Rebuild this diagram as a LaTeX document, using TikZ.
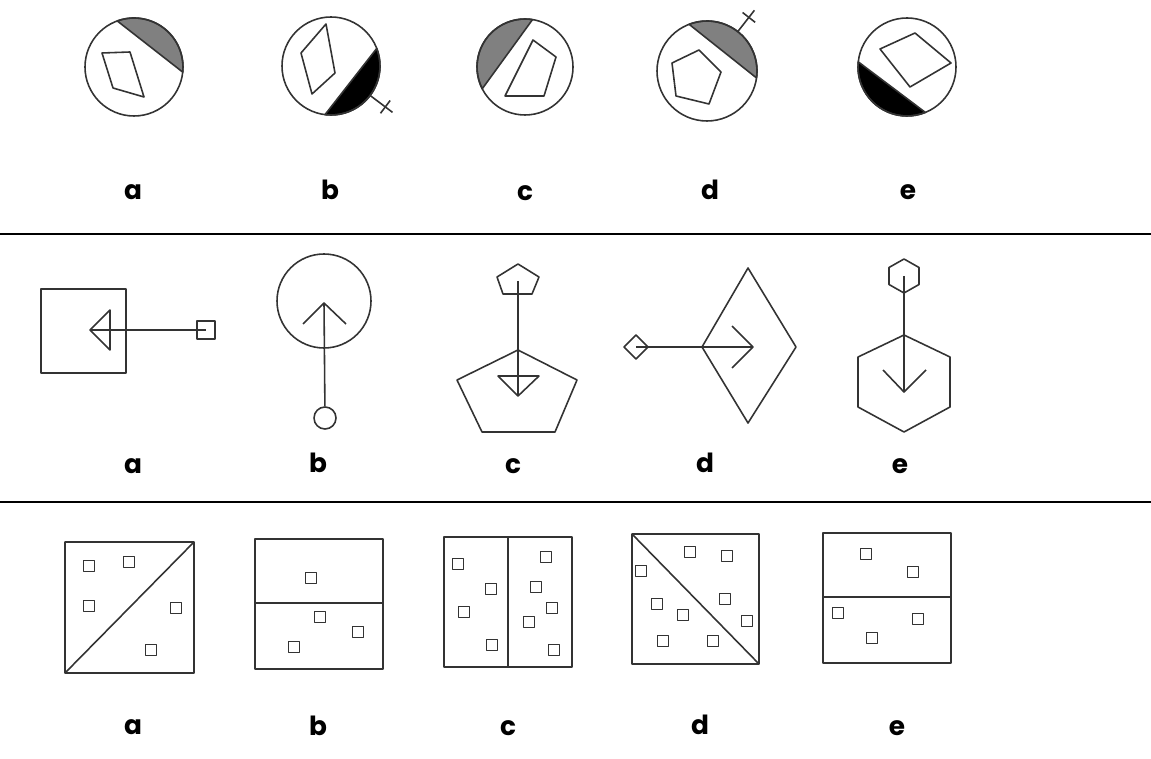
\documentclass[tikz,border=0pt]{standalone}
\usepackage{fontspec}
\newfontfamily\lblfont{Poppins}
\usetikzlibrary{calc}

\tikzset{
  fig/.style={draw=black!80, line width=0.9pt, line join=round},
  pip/.style={fig, rectangle, minimum size=0.22cm, inner sep=0pt},
  lbl/.style={font=\lblfont\bfseries\fontsize{15}{18}\selectfont, inner sep=0pt},
  sep/.style={draw=black, line width=0.8pt},
}

\begin{document}
\begin{tikzpicture}[x=0.02cm, y=-0.02cm]
\useasboundingbox (0,0) rectangle (1151,759);

% row 1: discs with a cut segment
\coordinate (ca) at (134,67);
\coordinate (cb) at (331,66);
\coordinate (cc) at (525,67);
\coordinate (cd) at (707,71);
\coordinate (ce) at (907,67);

\filldraw[fig, fill=gray] (ca) ++(-110:49) arc[start angle=-110, end angle=6, radius=49] -- cycle;
\filldraw[fig, fill=black] (cb) ++(-21:49) arc[start angle=-21, end angle=97, radius=49] -- cycle;
\filldraw[fig, fill=gray] (cc) ++(153:48) arc[start angle=153, end angle=279, radius=48] -- cycle;
\filldraw[fig, fill=gray] (cd) ++(-111:50) arc[start angle=-111, end angle=8, radius=50] -- cycle;
\filldraw[fig, fill=black] (ce) ++(68:49) arc[start angle=68, end angle=186, radius=49] -- cycle;

\draw[fig] (ca) circle[radius=49];
\draw[fig] (cb) circle[radius=49];
\draw[fig] (cc) circle[radius=48];
\draw[fig] (cd) circle[radius=50];
\draw[fig] (ce) circle[radius=49];

% crosses
\draw[fig] (cb) ++(37:49) -- ++(37:28);
\draw[fig] (cb) ++(37:68) ++(127:8) -- ++(-53:16);
\draw[fig] (cd) ++(-52:50) -- ++(-52:27);
\draw[fig] (cd) ++(-52:68) ++(38:8) -- ++(-142:16);

% inner shapes
\draw[fig] (102,53) -- (130,52) -- (144,97) -- (113,88) -- cycle;
\draw[fig] (326,24) -- (335,73) -- (312,94) -- (301,53) -- cycle;
\draw[fig] (533,40) -- (556,57) -- (544,96) -- (505,96) -- cycle;
\draw[fig] (699,50) -- (721,72) -- (709,104) -- (676,96) -- (672,63) -- cycle;
\draw[fig] (880,49) -- (915,33) -- (951,63) -- (910,87) -- cycle;

\node[lbl] (la1) at (133,192) {a};
\node[lbl] (lb1) at (330,190) {b};
\node[lbl] (lc1) at (525,193) {c};
\node[lbl] (ld1) at (710,190) {d};
\node[lbl] (le1) at (908,192) {e};

\draw[sep] (0,234) -- (1151,234);

% row 2: shapes with pointers
\draw[fig] (41,289) rectangle (126,373);
\coordinate (tipa) at (90,330);
\draw[fig] (tipa) -- (110,310) -- (110,350) -- cycle;
\node[fig, rectangle, minimum size=0.36cm, inner sep=0pt] (enda) at (206,330) {};
\draw[fig] (tipa) -- (enda.center);

\draw[fig] (324,301) circle[radius=47];
\coordinate (tipb) at (324,303);
\node[fig, circle, minimum size=0.44cm, inner sep=0pt] (endb) at (325,418) {};
\draw[fig] (endb) -- (tipb);
\draw[fig] (303,324) -- (tipb) -- (346,324);

\coordinate (endc) at (518,281);
\coordinate (tipc) at (518,396);
\draw[fig] (518,264) -- (539,277) -- (532,294) -- (503,294) -- (497,277) -- cycle;
\draw[fig] (518,350) -- (577,380) -- (555,432) -- (482,432) -- (457,380) -- cycle;
\draw[fig] (498,376) -- (539,376) -- (tipc) -- cycle;
\draw[fig] (endc) -- (tipc);

\coordinate (endd) at (636,347);
\coordinate (tipd) at (753,347);
\draw[fig] (624,347) -- (636,335) -- (648,347) -- (636,359) -- cycle;
\draw[fig] (748,268) -- (796,347) -- (748,423) -- (702,347) -- cycle;
\draw[fig] (732,326) -- (tipd) -- (732,368);
\draw[fig] (endd) -- (tipd);

\coordinate (ende) at (904,276);
\coordinate (tipe) at (904,392);
\draw[fig] (904,259) -- (919,267.5) -- (919,284.5) -- (904,293) -- (889,284.5) -- (889,267.5) -- cycle;
\draw[fig] (904,335) -- (950,357) -- (950,407) -- (904,432) -- (858,407) -- (858,357) -- cycle;
\draw[fig] (883,370) -- (tipe) -- (926,370);
\draw[fig] (ende) -- (tipe);

\node[lbl] (la2) at (133,466) {a};
\node[lbl] (lb2) at (318,463) {b};
\node[lbl] (lc2) at (513,466) {c};
\node[lbl] (ld2) at (705,463) {d};
\node[lbl] (le2) at (900,466) {e};

\draw[sep] (0,502) -- (1151,502);

% row 3: boxes with dots
\draw[fig] (65,542) rectangle (194,673) (65,673) -- (194,542);
\foreach \p [count=\i] in {(89,566),(129,562),(89,606),(176,608),(151,650)}
  \node[pip] (pa\i) at \p {};

\draw[fig] (255,539) rectangle (383,669) (255,603) -- (383,603);
\foreach \p [count=\i] in {(311,578),(320,617),(358,632),(294,647)}
  \node[pip] (pb\i) at \p {};

\draw[fig] (444,537) rectangle (572,667) (508,537) -- (508,667);
\foreach \p [count=\i] in {(458,564),(491,589),(464,612),(492,645),(546,557),(536,587),(552,608),(529,622),(554,650)}
  \node[pip] (pc\i) at \p {};

\draw[fig] (632,534) rectangle (759,664) (632,534) -- (759,664);
\foreach \p [count=\i] in {(690,552),(727,556),(641,571),(725,599),(657,604),(683,615),(747,621),(663,641),(713,641)}
  \node[pip] (pd\i) at \p {};

\draw[fig] (823,533) rectangle (951,663) (823,597) -- (951,597);
\foreach \p [count=\i] in {(866,554),(913,572),(838,613),(918,619),(872,638)}
  \node[pip] (pe\i) at \p {};

\node[lbl] (la3) at (133,727) {a};
\node[lbl] (lb3) at (318,726) {b};
\node[lbl] (lc3) at (508,728) {c};
\node[lbl] (ld3) at (700,725) {d};
\node[lbl] (le3) at (897,728) {e};

\end{tikzpicture}
\end{document}
